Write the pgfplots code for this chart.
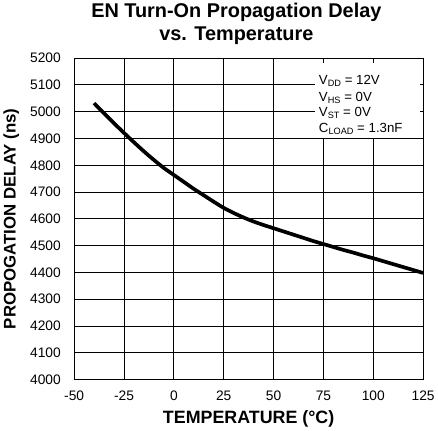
\documentclass[border=0pt]{standalone}
\usepackage{fontspec}
\setmainfont{Liberation Sans}
\usepackage{pgfplots}
\pgfplotsset{compat=1.18}
\begin{document}
\begin{tikzpicture}
\begin{axis}[
  scale only axis,
  width=341bp, height=314bp,
  xmin=-50, xmax=125, ymin=4000, ymax=5200,
  xtick={-50,-25,0,25,50,75,100,125},
  ytick={4000,4100,4200,4300,4400,4500,4600,4700,4800,4900,5000,5100,5200},
  grid=major,
  major grid style={black, line width=0.9bp},
  axis line style={black, line width=0.9bp},
  major tick length=0pt,
  /pgf/number format/assume math mode=true,
  /pgf/number format/set thousands separator={},
  tick label style={font=\fontsize{13.5}{15}\selectfont},
  xticklabel style={yshift=-8bp},
  yticklabel style={xshift=-9.5bp},
  xlabel={TEMPERATURE (°C)},
  ylabel={PROPOGATION DELAY (ns)},
  xlabel style={font=\bfseries\fontsize{17.5}{20}\selectfont, yshift=-2bp},
  ylabel style={font=\bfseries\fontsize{16.5}{19}\selectfont, yshift=4bp},
  title={EN Turn-On Propagation Delay\\vs. Temperature},
  title style={font=\bfseries\fontsize{19.5}{22}\selectfont, align=center, xshift=-12bp, yshift=4bp},
  clip=false,
]
\addplot[black, line width=3.6bp, smooth, tension=0.5] coordinates {
  (-40,5032) (-35,4994) (-30,4957) (-25,4921) (-20,4886) (-15,4852) (-10,4820) (-5,4790)
  (0,4764) (5,4738) (10,4712) (15,4688) (20,4664) (25,4641) (30,4622) (35,4605) (40,4590)
  (45,4577) (50,4565) (55,4553) (60,4541) (65,4529) (70,4517) (75,4506) (80,4495) (85,4484)
  (90,4474) (95,4463) (100,4453) (105,4442) (110,4431) (115,4420) (120,4409) (125,4398)
};
\fill[white] (axis description cs:0.689,0.984) rectangle (axis description cs:0.991,0.752);
\node[font=\fontsize{13}{15}\selectfont, anchor=base west, inner sep=0pt] at (axis description cs:0.701,0.917) {V\raisebox{-2bp}{\fontsize{9}{9}\selectfont DD} = 12V};
\node[font=\fontsize{13}{15}\selectfont, anchor=base west, inner sep=0pt] at (axis description cs:0.701,0.866) {V\raisebox{-2bp}{\fontsize{9}{9}\selectfont HS} = 0V};
\node[font=\fontsize{13}{15}\selectfont, anchor=base west, inner sep=0pt] at (axis description cs:0.701,0.818) {V\raisebox{-2bp}{\fontsize{9}{9}\selectfont ST} = 0V};
\node[font=\fontsize{13}{15}\selectfont, anchor=base west, inner sep=0pt] at (axis description cs:0.701,0.768) {C\raisebox{-2bp}{\fontsize{9}{9}\selectfont LOAD} = 1.3nF};
\end{axis}
\end{tikzpicture}
\end{document}
